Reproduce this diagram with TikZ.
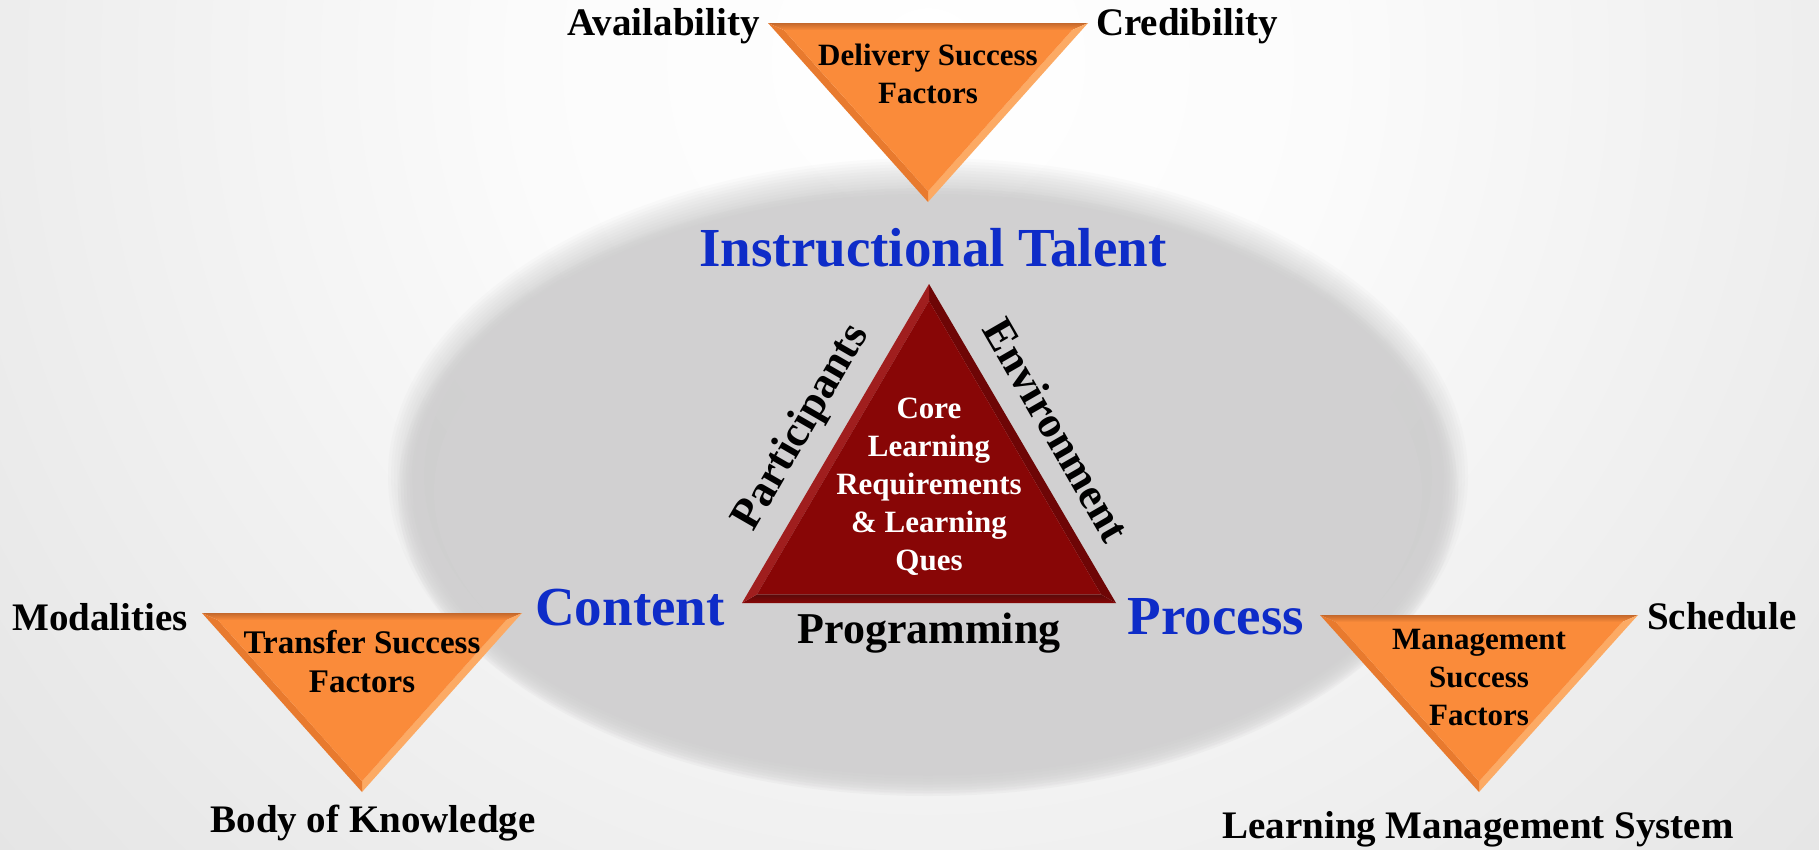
\documentclass[tikz,border=0pt]{standalone}
\usepackage{fontspec}
\setmainfont{Liberation Serif}
\usetikzlibrary{calc}
\definecolor{orface}{RGB}{250,139,58}
\definecolor{ortop}{RGB}{196,104,44}
\definecolor{orright}{RGB}{252,170,100}
\definecolor{orleft}{RGB}{232,122,46}
\definecolor{rdface}{RGB}{136,6,6}
\definecolor{rdleft}{RGB}{160,30,30}
\definecolor{rdright}{RGB}{110,6,6}
\definecolor{rdbot}{RGB}{90,10,10}
\definecolor{tblue}{RGB}{14,44,200}
\definecolor{ellshadow}{RGB}{178,178,178}
\definecolor{ellin}{RGB}{209,208,209}
\pgfdeclareradialshading{bgshade}{\pgfpoint{0bp}{0bp}}{rgb(0bp)=(1,1,1); rgb(8bp)=(0.985,0.985,0.985); rgb(22bp)=(0.91,0.91,0.91); rgb(38bp)=(0.835,0.835,0.835); rgb(50bp)=(0.75,0.75,0.75)}
\newcommand{\bevtri}[6]{%
  \coordinate (#1-a) at ($(#1-A)!#2!(#1-I)$);
  \coordinate (#1-b) at ($(#1-B)!#2!(#1-I)$);
  \coordinate (#1-c) at ($(#1-C)!#2!(#1-I)$);
  \shade[top color=#4, bottom color=#3] (#1-A) -- (#1-B) -- (#1-b) -- (#1-a) -- cycle;
  \fill[#5] (#1-B) -- (#1-C) -- (#1-c) -- (#1-b) -- cycle;
  \fill[#6] (#1-C) -- (#1-A) -- (#1-a) -- (#1-c) -- cycle;
  \fill[#3] (#1-a) -- (#1-b) -- (#1-c) -- cycle;
}
\begin{document}
\begin{tikzpicture}[x=1pt,y=-1pt,
  lbl/.style={font=\bfseries\fontsize{39}{46}\selectfont, inner sep=0pt, text=black},
  big/.style={font=\bfseries\fontsize{55}{64}\selectfont, inner sep=0pt, text=tblue},
  side/.style={font=\bfseries\fontsize{44}{50}\selectfont, inner sep=0pt, text=black},
  intext/.style={font=\bfseries\fontsize{31}{38}\selectfont, inner sep=0pt, align=center},
  ]
\useasboundingbox (0,0) rectangle (1819,849);
% background
\begin{scope}
\clip (0,0) rectangle (1819,849);
\shade[shading=bgshade] (928,60) circle (1250);
\foreach \k in {0,...,12} {
  \fill[ellshadow, opacity=0.05] (928,476) ellipse ({540-3*\k} and {318-3*\k});
}
\foreach \k in {0,...,11} {
  \fill[ellin, opacity=0.17] (928,492) ellipse ({530-3*\k} and {304-3*\k});
}
\fill[ellin] (928,492) ellipse (494 and 268);
\end{scope}
% triangles
\coordinate (t-A) at (768,23); \coordinate (t-B) at (1088,23); \coordinate (t-C) at (928,202); \coordinate (t-I) at (928,94.6);
\coordinate (l-A) at (202,613); \coordinate (l-B) at (522,613); \coordinate (l-C) at (362,792); \coordinate (l-I) at (362,684.6);
\coordinate (r-A) at (1320,615); \coordinate (r-B) at (1638,615); \coordinate (r-C) at (1479,792); \coordinate (r-I) at (1479,685.9);
\coordinate (c-A) at (742,603); \coordinate (c-B) at (1116,603); \coordinate (c-C) at (929,284); \coordinate (c-I) at (929,496);
\bevtri{t}{0.1}{orface}{ortop}{orright}{orleft}
\bevtri{l}{0.1}{orface}{ortop}{orright}{orleft}
\bevtri{r}{0.1}{orface}{ortop}{orright}{orleft}
\bevtri{c}{0.08}{rdface}{rdbot}{rdright}{rdleft}
% texts
\node[intext] (deliv) at (928,74) {Delivery Success\\Factors};
\node[intext, font=\bfseries\fontsize{33}{39}\selectfont] (transf) at (362,662) {Transfer Success\\Factors};
\node[intext] (manag) at (1479,677) {Management\\Success\\Factors};
\node[intext, text=white] (core) at (929,487) {Core\\Learning\\Requirements\\\& Learning\\Ques};
\node[lbl, anchor=base east] (avail) at (760,35) {Availability};
\node[lbl, anchor=base west] (cred) at (1096,35) {Credibility};
\node[lbl, anchor=base west] (modal) at (12,630) {Modalities};
\node[lbl, anchor=base west] (sched) at (1647,629) {Schedule};
\node[lbl, anchor=base] (body) at (373,832) {Body of Knowledge};
\node[lbl, anchor=base] (lms) at (1478,838) {Learning Management System};
\node[big, anchor=base] (talent) at (933,266) {Instructional Talent};
\node[big, anchor=base] (content) at (630,625) {Content};
\node[big, anchor=base] (process) at (1216,634) {Process};
\node[side, anchor=base] (prog) at (929,643) {Programming};
\node[side, rotate=60] (part) at (802,428) {Participants};
\node[side, rotate=-60] (env) at (1057,430) {Environment};
\end{tikzpicture}
\end{document}
